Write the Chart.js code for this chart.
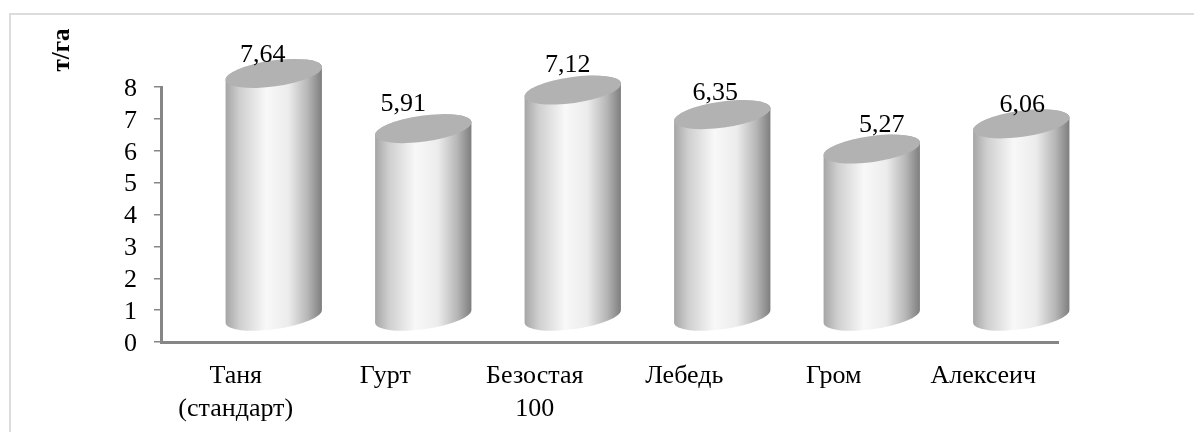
<!DOCTYPE html>
<html>
<head>
<meta charset="utf-8">
<style>
  html, body { margin: 0; padding: 0; background: #fff; }
  #wrap { position: relative; width: 1194px; height: 432px; }
</style>
<script src="https://cdn.jsdelivr.net/npm/chart.js@4"></script>
</head>
<body>
<div id="wrap"><canvas id="chart" width="1194" height="432"></canvas></div>
<script>
// данные
const sorta = [['Таня', '(стандарт)'], 'Гурт', ['Безостая', '100'], 'Лебедь', 'Гром', 'Алексеич']
const urozhai = [7.64, 5.91, 7.12, 6.35, 5.27, 6.06]
const yTicks = [0, 1, 2, 3, 4, 5, 6, 7, 8]
const yTitle = 'т/га'

// сдвиг подписей относительно верха столбца (подписи в оригинале двигали руками)
const labelShift = [[-11, -43], [-20, -49], [-5, -50], [-7, -46], [10, -49], [1, -44]]

const FONT = '"Liberation Serif", serif'
const AXIS = '#868686'
const DEPTH_X = 38   // сдвиг цилиндра вправо
const DEPTH_Y = 25   // и вверх
const TILT = -8 * Math.PI / 180
const RY = 13

const cylinders = {
    id: 'cylinders',
    afterDatasetsDraw(chart) {
        const ctx = chart.ctx
        const meta = chart.getDatasetMeta(0)
        meta.data.forEach((bar, i) => {
            const cx = bar.x + DEPTH_X
            const rx = bar.width / 2 + 0.5
            const top = bar.y - DEPTH_Y
            const bottom = bar.base - DEPTH_Y

            // боковая поверхность
            const grad = ctx.createLinearGradient(cx - rx, 0, cx + rx, 0)
            grad.addColorStop(0, '#a4a4a4')
            grad.addColorStop(0.15, '#cfcfcf')
            grad.addColorStop(0.42, '#f8f8f8')
            grad.addColorStop(0.65, '#ececec')
            grad.addColorStop(0.85, '#b6b6b6')
            grad.addColorStop(1, '#7c7c7c')

            ctx.save()
            ctx.beginPath()
            ctx.ellipse(cx, bottom, rx, RY, TILT, Math.PI, 0, true)
            ctx.ellipse(cx, top, rx, RY, TILT, 0, Math.PI, true)
            ctx.closePath()
            ctx.fillStyle = grad
            ctx.fill()

            // верхний торец
            ctx.beginPath()
            ctx.ellipse(cx, top, rx, RY, TILT, 0, Math.PI * 2)
            ctx.fillStyle = '#b2b2b2'
            ctx.fill()

            // подпись значения
            ctx.fillStyle = '#000'
            ctx.font = '26px ' + FONT
            ctx.textAlign = 'center'
            ctx.textBaseline = 'middle'
            ctx.fillText(urozhai[i].toFixed(2).replace('.', ','), cx + labelShift[i][0], bar.y + labelShift[i][1])
            ctx.restore()
        })

        // подпись оси
        ctx.save()
        ctx.translate(63, 50)
        ctx.rotate(-Math.PI / 2)
        ctx.font = 'bold 25px ' + FONT
        ctx.fillStyle = '#000'
        ctx.textAlign = 'center'
        ctx.textBaseline = 'middle'
        ctx.fillText(yTitle, 0, 0)
        ctx.restore()

        // рамка: видны только верх и левый край
        ctx.strokeStyle = '#dcdcdc'
        ctx.lineWidth = 2
        ctx.beginPath()
        ctx.moveTo(10, 432)
        ctx.lineTo(10, 14)
        ctx.lineTo(1194, 14)
        ctx.stroke()
    }
}

new Chart(document.getElementById('chart'), {
    type: 'bar',
    data: {
        labels: sorta,
        datasets: [{
            data: urozhai,
            backgroundColor: 'transparent',
            categoryPercentage: 1,
            barPercentage: 0.644
        }]
    },
    options: {
        responsive: false,
        animation: false,
        layout: { padding: { top: 87, right: 136 } },
        plugins: { legend: { display: false }, tooltip: { enabled: false } },
        scales: {
            x: {
                afterFit: s => { s.height = 90 },
                grid: { drawOnChartArea: false, drawTicks: false },
                border: { color: AXIS, width: 3 },
                ticks: { color: '#000', font: { family: FONT, size: 26, lineHeight: 1.27 }, padding: 18, maxRotation: 0, autoSkip: false }
            },
            y: {
                min: 0,
                max: 8,
                afterFit: s => { s.width = 161 },
                afterBuildTicks: s => { s.ticks = yTicks.map(v => ({ value: v })) },
                grid: { drawOnChartArea: false, color: AXIS, lineWidth: 1.5, tickLength: 7 },
                border: { color: AXIS, width: 3 },
                ticks: { color: '#000', font: { family: FONT, size: 26 }, padding: 17, labelOffset: 2, autoSkip: false }
            }
        }
    },
    plugins: [cylinders]
})
</script>
</body>
</html>
